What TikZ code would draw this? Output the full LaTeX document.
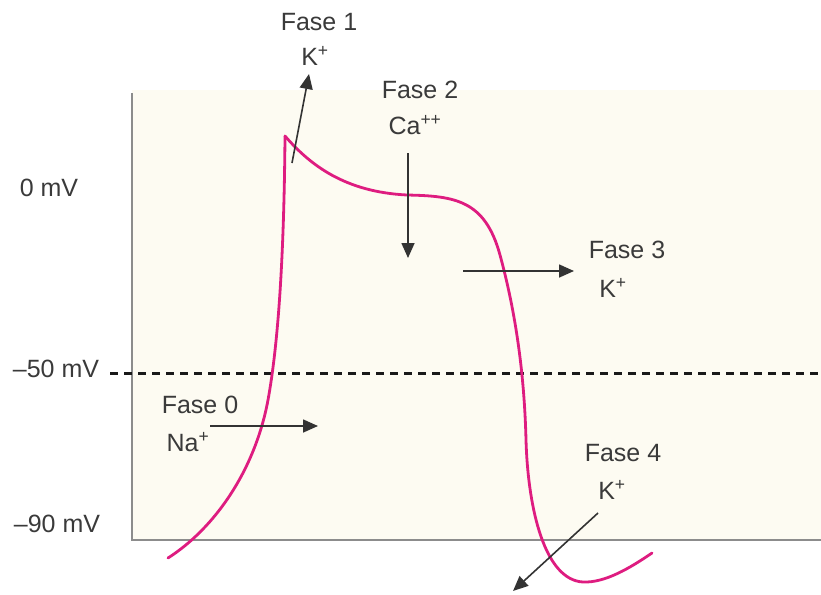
\documentclass[tikz,border=0pt]{standalone}
\usepackage{fontspec}
\setmainfont{Liberation Sans}
\usetikzlibrary{arrows.meta}

\definecolor{bgbeige}{RGB}{253,251,242}
\definecolor{apcurve}{RGB}{222,28,128}
\definecolor{txtgray}{RGB}{58,58,58}

\begin{document}
\begin{tikzpicture}[
  x=1pt, y=-1pt,
  font=\fontsize{25}{28}\selectfont,
  >=Triangle,
  every node/.style={text=txtgray, inner sep=0pt},
  axisline/.style={draw=gray!90, line width=2.2pt},
  threshold/.style={draw=black!90, line width=3pt, dash pattern=on 8pt off 6pt},
  flux/.style={draw=black!80, line width=1.6pt, -{Triangle[length=15pt, width=13pt]}},
  apline/.style={draw=apcurve, line width=2.8pt, line cap=round}
]
  \useasboundingbox (0,0) rectangle (821,594);

  % Plot area
  \fill[bgbeige] (132,90) rectangle (821,540);
  \coordinate (ytop) at (132,93);
  \coordinate (orig) at (132,540);
  \coordinate (xend) at (821,540);
  \draw[axisline] (ytop) -- (orig) -- (xend);

  % Threshold line
  \coordinate (thl) at (110,373);
  \coordinate (thr) at (821,373);
  \draw[threshold] (thl) -- (thr);

  % Voltage labels
  \node (v0) at (49,188) {0 mV};
  \node (v50) at (56,369) {--50 mV};
  \node (v90) at (57,524) {--90 mV};

  % Action potential
  \coordinate (rest) at (168,558);
  \coordinate (peak) at (285,136);
  \coordinate (plat) at (407,195);
  \coordinate (repo) at (500,255);
  \coordinate (fall) at (526,440);
  \coordinate (hyper) at (583,582);
  \coordinate (tail) at (652,553);
  \draw[apline] (rest) .. controls (215,528) and (255,470) .. (268,400)
    .. controls (278,345) and (284,260) .. (peak);
  \draw[apline] (peak) .. controls (310,165) and (345,192) .. (plat)
    .. controls (455,196) and (485,200) .. (repo)
    .. controls (512,299) and (524,360) .. (fall)
    .. controls (528,510) and (545,580) .. (hyper)
    .. controls (605,583) and (630,568) .. (tail);

  % Phase labels
  \node (f1) at (319,22) {Fase 1};
  \node (k1) at (315,56) {K\textsuperscript{+}};
  \node (f2) at (420,90) {Fase 2};
  \node (ca) at (415,125) {Ca\textsuperscript{++}};
  \node (f3) at (627,250) {Fase 3};
  \node (k3) at (613,288) {K\textsuperscript{+}};
  \node (f0) at (200,405) {Fase 0};
  \node (na) at (188,442) {Na\textsuperscript{+}};
  \node (f4) at (623,453) {Fase 4};
  \node (k4) at (612,490) {K\textsuperscript{+}};

  % Ion currents
  \coordinate (a1s) at (292,163);  \coordinate (a1e) at (309,74);
  \coordinate (a2s) at (408,153);  \coordinate (a2e) at (408,258);
  \coordinate (a3s) at (463,271);  \coordinate (a3e) at (574,271);
  \coordinate (a0s) at (210,426);  \coordinate (a0e) at (318,426);
  \coordinate (a4s) at (598,513);  \coordinate (a4e) at (513,591);
  \draw[flux] (a1s) -- (a1e);
  \draw[flux] (a2s) -- (a2e);
  \draw[flux] (a3s) -- (a3e);
  \draw[flux] (a0s) -- (a0e);
  \draw[flux] (a4s) -- (a4e);
\end{tikzpicture}
\end{document}
